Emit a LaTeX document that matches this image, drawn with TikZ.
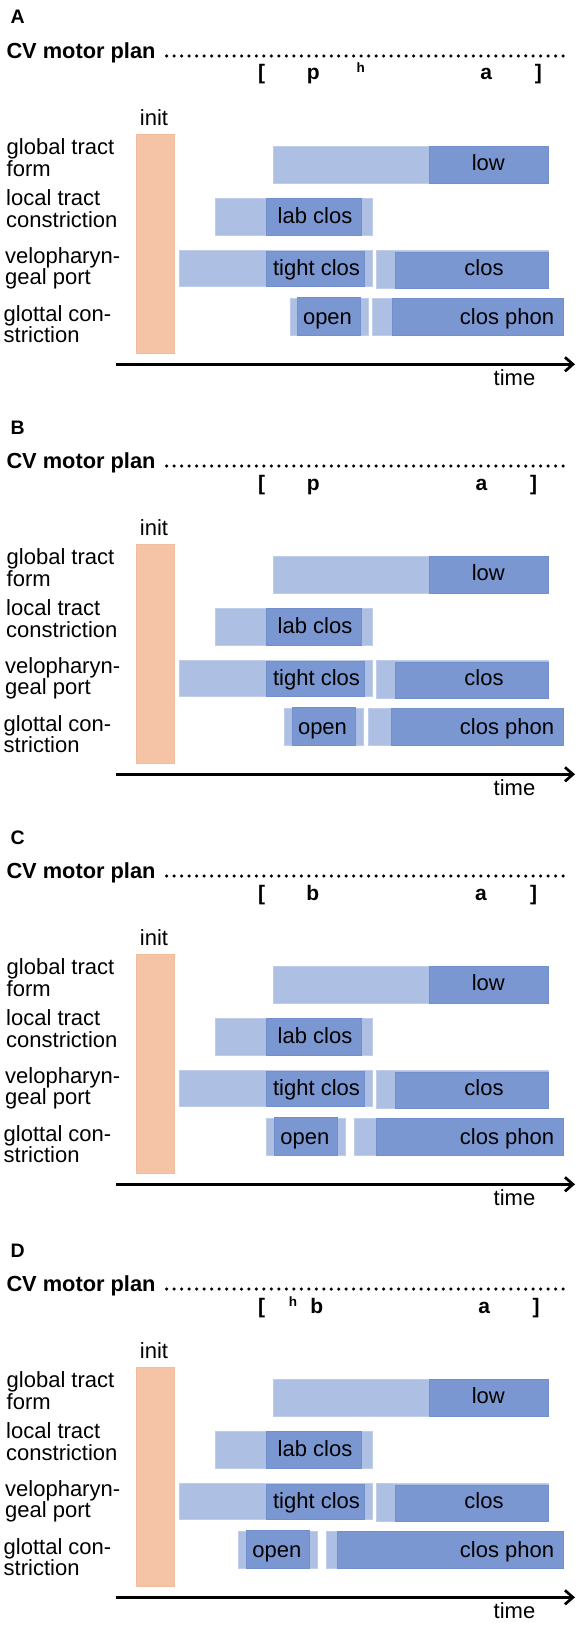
\documentclass[tikz,border=0pt]{standalone}
\usepackage{fontspec}
\setmainfont{Liberation Sans}
\usetikzlibrary{arrows.meta}
\definecolor{initfill}{HTML}{F5C4A6}
\definecolor{initline}{HTML}{F3BC9C}
\definecolor{lightfill}{HTML}{ADBFE3}
\definecolor{lightline}{HTML}{BFCDEB}
\definecolor{darkfill}{HTML}{7B97D2}
\definecolor{darkline}{HTML}{7390CE}
\newcommand\twolines[2]{\vtop{\hbox{#1}\hbox{#2}}}
\tikzset{
 lbl/.style={inner sep=0pt, font=\fontsize{22}{21.7}\selectfont, anchor=base west},
 barlbl/.style={inner sep=0pt, font=\fontsize{22}{22}\selectfont, anchor=base},
 head/.style={inner sep=0pt, font=\bfseries\fontsize{21.8}{22}\selectfont, anchor=base west},
 panellbl/.style={inner sep=0pt, font=\bfseries\fontsize{19.5}{20}\selectfont, anchor=base west},
 phon/.style={inner sep=0pt, font=\bfseries\fontsize{21}{21}\selectfont, anchor=base},
 phonsup/.style={inner sep=0pt, font=\bfseries\fontsize{13.5}{14}\selectfont, anchor=base},
 lightbar/.style={fill=lightfill, draw=lightline, line width=0.8pt},
 darkbar/.style={fill=darkfill, draw=darkline, line width=0.8pt},
 initbar/.style={fill=initfill, draw=initline, line width=0.8pt},
 axisline/.style={line width=2.7pt, -{Straight Barb[length=8pt,width=14pt]}},
}
\newcommand\commonpanel[2]{%
  \node[panellbl] (#1-letter) at (10.5,24) {#2};
  \node[head] (#1-plan) at (6.3,58.3) {CV motor plan};
  \foreach \i in {0,...,53} \fill (166.7+\i*7.48,56) circle[radius=1.75pt];
  \node[barlbl] (#1-init) at (154,125.7) {init};
  \path[initbar] (136,134.3) rectangle (174,353.3);
  \node[lbl] (#1-rg) at (6.5,154.5) {\twolines{global tract}{form}};
  \node[lbl] (#1-rl) at (6,205.5) {\twolines{local tract}{constriction}};
  \node[lbl] (#1-rv) at (5,263) {\twolines{velopharyn-}{geal port}};
  \node[lbl] (#1-rt) at (3.5,321) {\twolines{glottal con-}{striction}};
  % global tract form
  \path[lightbar] (273.3,146.7) rectangle (548.3,183.3);
  \path[darkbar] (429.3,146.7) rectangle (548.3,183.3);
  \node[barlbl] (#1-low) at (488.3,170.3) {low};
  % local tract
  \path[lightbar] (215,198.3) rectangle (372.3,235);
  \path[darkbar] (266.7,198.3) rectangle (361.7,235);
  \node[barlbl] (#1-lab) at (315,223.3) {lab clos};
  % velopharyngeal
  \path[lightbar] (179.3,250) rectangle (372.7,286.7);
  \path[darkbar] (266,251.7) rectangle (364,286.7);
  \node[barlbl] (#1-tight) at (316.5,275) {tight clos};
  \path[lightbar] (376.7,250) rectangle (548.3,288);
  \path[darkbar] (395,252) rectangle (548.3,288);
  \node[barlbl] (#1-clos) at (484,275) {clos};
  % axis
  \coordinate (#1-t0) at (116,364.3);
  \coordinate (#1-t1) at (575,364.3);
  \draw[axisline] (#1-t0) -- (#1-t1);
  \node[barlbl] (#1-time) at (514.5,385) {time};
  \node[phon] (#1-lb) at (261.7,80) {[};
}
% #1 prefix, #2 light1 x0, #3 dark1 x0, #4 dark1 x1, #5 light1 x1, #6 open centre, #7 light2 x0, #8 dark2 x0
\newcommand\glottal[8]{%
  \path[lightbar] (#2,298.5) rectangle (#5,335.7);
  \path[darkbar] (#3,297.5) rectangle (#4,335.7);
  \node[barlbl] (#1-open) at (#6,324.5) {open};
  \path[lightbar] (#7,298.5) rectangle (563.3,335.7);
  \path[darkbar] (#8,298.5) rectangle (563.3,335.7);
  \node[barlbl] (#1-phon) at (507,324.5) {clos phon};
}
\begin{document}
\begin{tikzpicture}[x=1pt,y=-1pt]
\useasboundingbox[fill=white] (0,0) rectangle (579,1637);
% ---------- A
\begin{scope}
  \commonpanel{A}{A}
  \glottal{A}{290}{297.3}{360}{368.3}{327.5}{372.7}{392}
  \node[phon] (A-p) at (313.3,80) {p};
  \node[phonsup] (A-h) at (360.8,72.7) {h};
  \node[phon] (A-a) at (486.2,80) {a};
  \node[phon] (A-rb) at (538.3,80) {]};
\end{scope}
% ---------- B
\begin{scope}[yshift=-410pt]
  \commonpanel{B}{B}
  \glottal{B}{284.3}{292.3}{355}{363.3}{322.5}{368.7}{391.7}
  \node[phon] (B-p) at (313.3,80) {p};
  \node[phon] (B-a) at (481.5,80) {a};
  \node[phon] (B-rb) at (533.5,80) {]};
\end{scope}
% ---------- C
\begin{scope}[yshift=-820pt]
  \commonpanel{C}{C}
  \glottal{C}{266.7}{274.3}{337.3}{345.7}{304.8}{354}{376.7}
  \node[phon] (C-b) at (312.7,80) {b};
  \node[phon] (C-a) at (481,80) {a};
  \node[phon] (C-rb) at (533.5,80) {]};
\end{scope}
% ---------- D
\begin{scope}[yshift=-1233pt]
  \commonpanel{D}{D}
  \glottal{D}{238.7}{246.7}{309}{317.3}{276.8}{326}{337.7}
  \node[phonsup] (D-h) at (293,73) {h};
  \node[phon] (D-b) at (316.7,80) {b};
  \node[phon] (D-a) at (484.2,80) {a};
  \node[phon] (D-rb) at (536,80) {]};
\end{scope}
\end{tikzpicture}
\end{document}
